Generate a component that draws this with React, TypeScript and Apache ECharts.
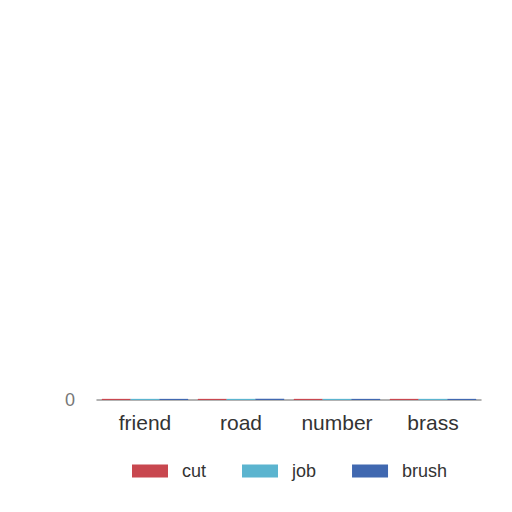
import { useRef, useEffect } from 'react'
import * as echarts from 'echarts'

const categories = ['friend', 'road', 'number', 'brass']
const cutValues = [0.3, 0.3, 0.3, 0.3]
const jobValues = [0.3, 0.3, 0.3, 0.3]
const brushValues = [0.3, 0.3, 0.3, 0.3]
const yMax = 100

function App() {
  const chartRef = useRef<HTMLDivElement>(null)

  useEffect(() => {
    document.body.style.margin = '0'
    if (!chartRef.current) return
    const myChart = echarts.init(chartRef.current, null, { renderer: 'svg' })
    const font = '"Liberation Sans", Arial, sans-serif'
    const option = {
      animation: false,
      backgroundColor: '#ffffff',
      textStyle: { fontFamily: font },
      grid: { left: 97, right: 31, top: 20, bottom: 112 },
      legend: {
        data: ['cut', 'job', 'brush'],
        bottom: 27,
        left: 127,
        itemWidth: 36,
        itemHeight: 13,
        itemGap: 36,
        icon: 'rect',
        textStyle: { fontSize: 18, color: '#333', fontFamily: font, padding: [0, 0, 0, 9] }
      },
      xAxis: {
        type: 'category',
        data: categories,
        axisLine: { lineStyle: { color: '#999', width: 1.5 } },
        axisTick: { show: false },
        axisLabel: { fontSize: 21, color: '#333', margin: 12, fontFamily: font }
      },
      yAxis: {
        type: 'value',
        min: 0,
        max: yMax,
        interval: yMax,
        splitLine: { show: false },
        axisLine: { show: false },
        axisTick: { show: false },
        axisLabel: { showMaxLabel: false, fontSize: 18, color: '#777', margin: 22, fontFamily: font }
      },
      series: [
        { name: 'cut', type: 'bar', data: cutValues, barGap: 0, barCategoryGap: '10%', itemStyle: { color: '#c8474f' } },
        { name: 'job', type: 'bar', data: jobValues, barGap: 0, barCategoryGap: '10%', itemStyle: { color: '#5bb4cf' } },
        { name: 'brush', type: 'bar', data: brushValues, barGap: 0, barCategoryGap: '10%', itemStyle: { color: '#4068b0' } }
      ]
    }
    myChart.setOption(option)

    return () => {
      myChart.dispose()
    }
  }, [])

  return <div ref={chartRef} style={{ width: '512px', height: '512px' }}></div>
}

export default App
